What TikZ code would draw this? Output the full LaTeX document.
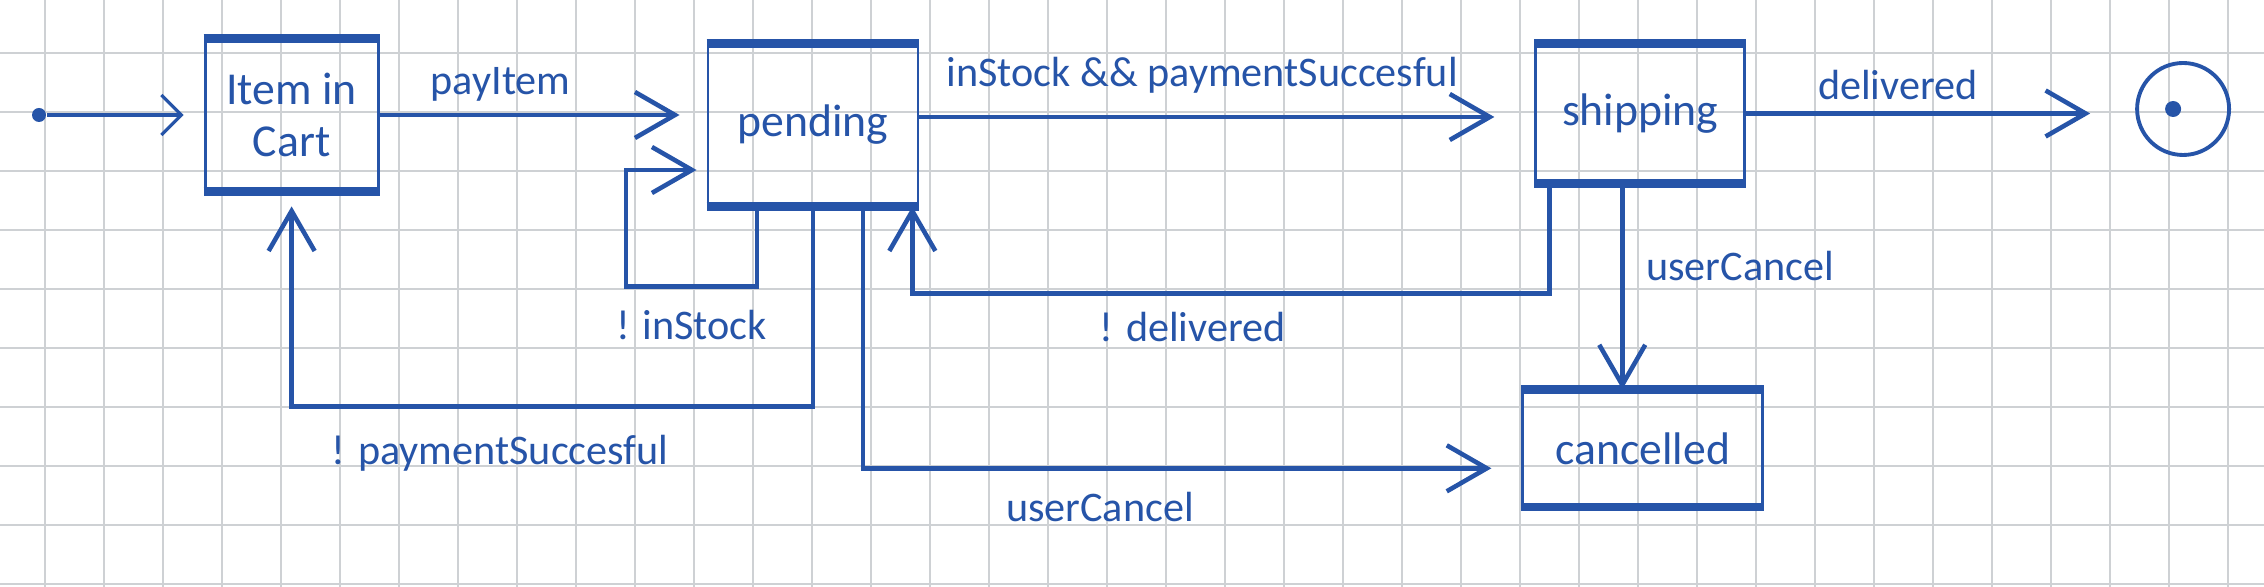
\documentclass[tikz,border=0pt]{standalone}
\usepackage{fontspec}
\setmainfont{Carlito}
\usepackage{tikz}
\usetikzlibrary{positioning, arrows.meta, calc}
\definecolor{ink}{RGB}{38,84,168}
\definecolor{gridline}{RGB}{206,209,212}
\tikzset{
  statebox/.style={
    rectangle, draw=ink, line width=0.8pt, inner sep=2pt,
    font=\fontsize{13}{15}\selectfont, text=ink, align=center
  },
  rim/.style={draw=ink, line width=2.4pt},
  every edge/.style={draw=ink, ->, line width=1.3pt, shorten >=3mm},
  conn/.style={draw=ink, ->, line width=1.3pt, shorten >=3mm},
  >={Straight Barb[length=4mm, width=4.6mm]},
  guard/.style={font=\fontsize{12}{14}\selectfont, text=ink},
  start dot/.style={circle, fill=ink, minimum size=1.4mm, inner sep=0pt},
  end ring/.style={circle, draw=ink, line width=1.1pt, minimum size=9.2mm, inner sep=0pt},
  paper/.style={draw=gridline, line width=0.7pt},
}

\begin{document}
\begin{tikzpicture}
  \useasboundingbox (0,0) rectangle (22.64,-5.87);
  \fill[white] (0,0) rectangle (22.64,-5.87);
  \draw[paper, shift={(0.45,-0.53)}] (-0.45,-5.34) grid[step=0.59] (22.19,0.53);

  \node[start dot] (init) at (0.39,-1.15) {};
  \node[statebox, minimum width=1.73cm, minimum height=1.5cm, right=1.57cm of init] (cart) {Item in\\Cart};
  \node[statebox, minimum width=2.1cm, minimum height=1.6cm, right=3.27cm of cart, yshift=-1mm] (pending) {pending};
  \node[statebox, minimum width=2.09cm, minimum height=1.37cm, right=6.15cm of pending, yshift=1.15mm] (shipping) {shipping};
  \node[end ring, right=3.89cm of shipping, yshift=0.45mm] (final) {};
  \node[start dot, minimum size=1.6mm] (finaldot) at ([xshift=-1mm]final.center) {};
  \node[statebox, minimum width=2.4cm, minimum height=1.15cm, below=2.06cm of shipping, xshift=0.25mm] (cancelled) {cancelled};

  % heavier pen strokes on top and bottom of the boxes
  \draw[rim] (cart.north west) -- (cart.north east) (cart.south west) -- (cart.south east);
  \draw[rim] (pending.north west) -- (pending.north east) (pending.south west) -- (pending.south east);
  \draw[rim] (shipping.north west) -- (shipping.north east) (shipping.south west) -- (shipping.south east);
  \draw[rim] (cancelled.north west) -- (cancelled.north east) (cancelled.south west) -- (cancelled.south east);

  \path (init) edge[line width=0.9pt, shorten >=2mm, -{Straight Barb[length=2mm, width=4mm]}] (cart)
        (cart.east) edge[shorten >=2.7mm] node[guard, above, pos=0.37]{payItem} (cart.east -| pending.west)
        ([yshift=0.8mm]pending.east) edge[shorten >=4mm] node[guard, above=1mm, pos=0.46]{inStock \&\& paymentSuccesful} ([yshift=0.8mm]pending.east -| shipping.west)
        (shipping.east) edge[shorten >=4.5mm] node[guard, above, pos=0.39]{delivered} (shipping.east -| final.west)
        ([xshift=-1.8mm]shipping.south) edge[shorten >=0mm] node[guard, right=1mm, pos=0.4]{userCancel} ([xshift=-1.8mm]shipping.south |- cancelled.north);

  % guarded returns and cancel
  \draw[conn, shorten >=1mm] ([xshift=-5.6mm]pending.south) -- ++(0,-0.8) -- node[guard, below=1mm]{! inStock} ++(-1.31,0) |- ([yshift=-4.5mm]pending.west);
  \draw[conn, shorten >=1.5mm] (pending.south) -- ++(0,-2.0) -| node[guard, pos=0.3, below=1.5mm]{! paymentSuccesful} (cart.south);
  \draw[conn, shorten >=0mm] ([xshift=1.5mm]shipping.south west) -- ++(0,-1.1) -| node[guard, pos=0.28, below=0.5mm]{! delivered} ([xshift=-0.7mm]pending.south east);
  \draw[conn] ([xshift=5mm]pending.south) |- node[guard, pos=0.68, below=1mm]{userCancel} ([yshift=-2mm]cancelled.west);
\end{tikzpicture}
\end{document}
